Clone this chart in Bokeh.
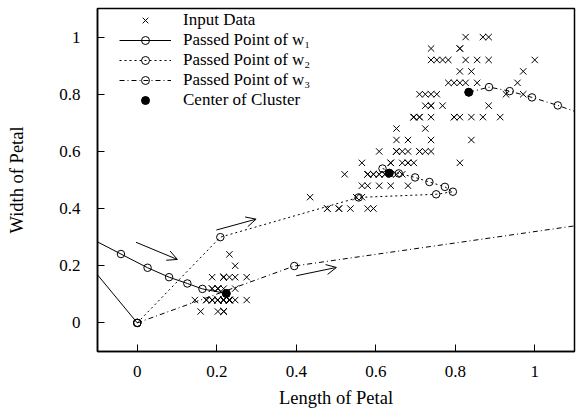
import numpy as np
from bokeh.plotting import figure
from bokeh.models import (Range1d, FixedTicker, Legend, LegendItem, Arrow,
                          OpenHead)
from bokeh.embed import file_html
from bokeh.resources import INLINE

# ---- data: Iris petal measurements (cm), shown normalised by their maxima ----
petal_length_cm = [
    1.4, 1.4, 1.3, 1.5, 1.4, 1.7, 1.4, 1.5, 1.4, 1.5, 1.5, 1.6, 1.4, 1.1, 1.2, 1.5, 1.3, 1.4, 1.7, 1.5,
    1.7, 1.5, 1.0, 1.7, 1.9, 1.6, 1.6, 1.5, 1.4, 1.6, 1.6, 1.5, 1.5, 1.4, 1.5, 1.2, 1.3, 1.5, 1.3, 1.5,
    1.3, 1.3, 1.3, 1.6, 1.9, 1.4, 1.6, 1.4, 1.5, 1.4,
    4.7, 4.5, 4.9, 4.0, 4.6, 4.5, 4.7, 3.3, 4.6, 3.9, 3.5, 4.2, 4.0, 4.7, 3.6, 4.4, 4.5, 4.1, 4.5, 3.9,
    4.8, 4.0, 4.9, 4.7, 4.3, 4.4, 4.8, 5.0, 4.5, 3.5, 3.8, 3.7, 3.9, 5.1, 4.5, 4.5, 4.7, 4.4, 4.1, 4.0,
    4.4, 4.6, 4.0, 3.3, 4.2, 4.2, 4.2, 4.3, 3.0, 4.1,
    6.0, 5.1, 5.9, 5.6, 5.8, 6.6, 4.5, 6.3, 5.8, 6.1, 5.1, 5.3, 5.5, 5.0, 5.1, 5.3, 5.5, 6.7, 6.9, 5.0,
    5.7, 4.9, 6.7, 4.9, 5.7, 6.0, 4.8, 4.9, 5.6, 5.8, 6.1, 6.4, 5.6, 5.1, 5.6, 6.1, 5.6, 5.5, 4.8, 5.4,
    5.6, 5.1, 5.1, 5.9, 5.7, 5.2, 5.0, 5.2, 5.4, 5.1]
petal_width_cm = [
    0.2, 0.2, 0.2, 0.2, 0.2, 0.4, 0.3, 0.2, 0.2, 0.1, 0.2, 0.2, 0.1, 0.1, 0.2, 0.4, 0.4, 0.3, 0.3, 0.3,
    0.2, 0.4, 0.2, 0.5, 0.2, 0.2, 0.4, 0.2, 0.2, 0.2, 0.2, 0.4, 0.1, 0.2, 0.1, 0.2, 0.2, 0.1, 0.2, 0.2,
    0.3, 0.3, 0.2, 0.6, 0.4, 0.3, 0.2, 0.2, 0.2, 0.2,
    1.4, 1.5, 1.5, 1.3, 1.5, 1.3, 1.6, 1.0, 1.3, 1.4, 1.0, 1.5, 1.0, 1.4, 1.3, 1.4, 1.5, 1.0, 1.5, 1.1,
    1.8, 1.3, 1.5, 1.2, 1.3, 1.4, 1.4, 1.7, 1.5, 1.0, 1.1, 1.0, 1.2, 1.6, 1.5, 1.6, 1.5, 1.3, 1.3, 1.3,
    1.2, 1.4, 1.2, 1.0, 1.3, 1.2, 1.3, 1.3, 1.1, 1.3,
    2.5, 1.9, 2.1, 1.8, 2.2, 2.1, 1.7, 1.8, 1.8, 2.5, 2.0, 1.9, 2.1, 2.0, 2.4, 2.3, 1.8, 2.2, 2.3, 1.5,
    2.3, 2.0, 2.0, 1.8, 2.1, 1.8, 1.8, 1.8, 2.1, 1.6, 1.9, 2.0, 2.2, 1.5, 1.4, 2.3, 2.4, 1.8, 1.8, 2.1,
    2.4, 2.3, 1.9, 2.3, 2.5, 2.3, 1.9, 2.0, 2.3, 1.8]

# passed points of the three weight vectors
w1_x = [0.0, -0.22, -0.041, 0.026, 0.080, 0.126, 0.164, 0.224]
w1_y = [0.0, 0.37, 0.241, 0.193, 0.160, 0.138, 0.119, 0.103]
w2_x = [0.0, 0.209, 0.557, 0.752, 0.794, 0.774, 0.735, 0.699, 0.658, 0.617, 0.634]
w2_y = [0.0, 0.300, 0.439, 0.450, 0.459, 0.476, 0.493, 0.509, 0.523, 0.540, 0.524]
w3_x = [0.0, 0.395, 1.68, 1.058, 0.993, 0.937, 0.885, 0.834]
w3_y = [0.0, 0.199, 0.455, 0.761, 0.789, 0.811, 0.825, 0.807]

center_x = [0.224, 0.634, 0.834]
center_y = [0.103, 0.524, 0.807]

arrow_x0 = [-0.003, 0.199, 0.400]
arrow_y0 = [0.282, 0.325, 0.165]
arrow_x1 = [0.101, 0.299, 0.501]
arrow_y1 = [0.222, 0.363, 0.194]

tick_values = [0, 0.2, 0.4, 0.6, 0.8, 1]
tick_labels = ["0", "0.2", "0.4", "0.6", "0.8", "1"]

labels = ["Input Data", "Passed Point of w\u2081", "Passed Point of w\u2082",
          "Passed Point of w\u2083", "Center of Cluster"]

FONT = "Liberation Serif"

x_data = np.array(petal_length_cm) / max(petal_length_cm)
y_data = np.array(petal_width_cm) / max(petal_width_cm)

p = figure(width=579, height=412, output_backend="svg", toolbar_location=None,
           x_range=Range1d(-0.1, 1.1), y_range=Range1d(-0.1, 1.1),
           min_border_left=97, min_border_right=5, min_border_top=8, min_border_bottom=61)
p.grid.visible = False
p.outline_line_color = "black"
p.outline_line_width = 1.5
p.background_fill_color = "white"
p.border_fill_color = "white"

for ax in (p.xaxis[0], p.yaxis[0]):
    ax.ticker = FixedTicker(ticks=tick_values)
    ax.major_label_overrides = {v: l for v, l in zip(tick_values, tick_labels)}
    ax.minor_tick_line_color = None
    ax.major_tick_in = 7
    ax.major_tick_out = 0
    ax.major_tick_line_color = "black"
    ax.axis_line_color = "black"
    ax.axis_line_width = 1.5
    ax.major_label_text_font = FONT
    ax.major_label_text_font_size = "17px"
    ax.major_label_text_color = "black"
    ax.axis_label_text_font = FONT
    ax.axis_label_text_font_size = "18.5px"
    ax.axis_label_text_font_style = "normal"
    ax.axis_label_text_color = "black"

p.xaxis.axis_label = "Length of Petal"
p.yaxis.axis_label = "Width of Petal"
p.xaxis.major_label_standoff = 14
p.xaxis.axis_label_standoff = 8
p.yaxis.major_label_standoff = 17
p.yaxis.axis_label_standoff = 29

r_data = p.scatter(x_data, y_data, marker="x", size=9, line_color="black", line_width=1)

line_styles = ["solid", "2 3", "5 3 1 3"]
items = [LegendItem(label=labels[0], renderers=[r_data])]
for i, (wx, wy) in enumerate([(w1_x, w1_y), (w2_x, w2_y), (w3_x, w3_y)]):
    rl = p.line(wx, wy, line_color="black", line_width=1, line_dash=line_styles[i])
    rc = p.scatter(wx, wy, marker="circle", size=7.5, fill_color=None,
                   line_color="black", line_width=1)
    items.append(LegendItem(label=labels[i + 1], renderers=[rl, rc]))

r_center = p.scatter(center_x, center_y, marker="circle", size=8,
                     fill_color="black", line_color="black")
items.append(LegendItem(label=labels[4], renderers=[r_center]))

for i in range(len(arrow_x0)):
    p.add_layout(Arrow(end=OpenHead(size=10, line_color="black", line_width=1),
                       x_start=arrow_x0[i], y_start=arrow_y0[i],
                       x_end=arrow_x1[i], y_end=arrow_y1[i],
                       line_color="black", line_width=1))

legend = Legend(items=items, location=(22, 241), margin=0, padding=0, spacing=0,
                glyph_width=52, glyph_height=20, label_height=20, label_standoff=12,
                label_text_font=FONT, label_text_font_size="17px",
                label_text_color="black",
                background_fill_alpha=0, border_line_alpha=0)
p.add_layout(legend)

open("out.html", "w").write(file_html(p, INLINE))
